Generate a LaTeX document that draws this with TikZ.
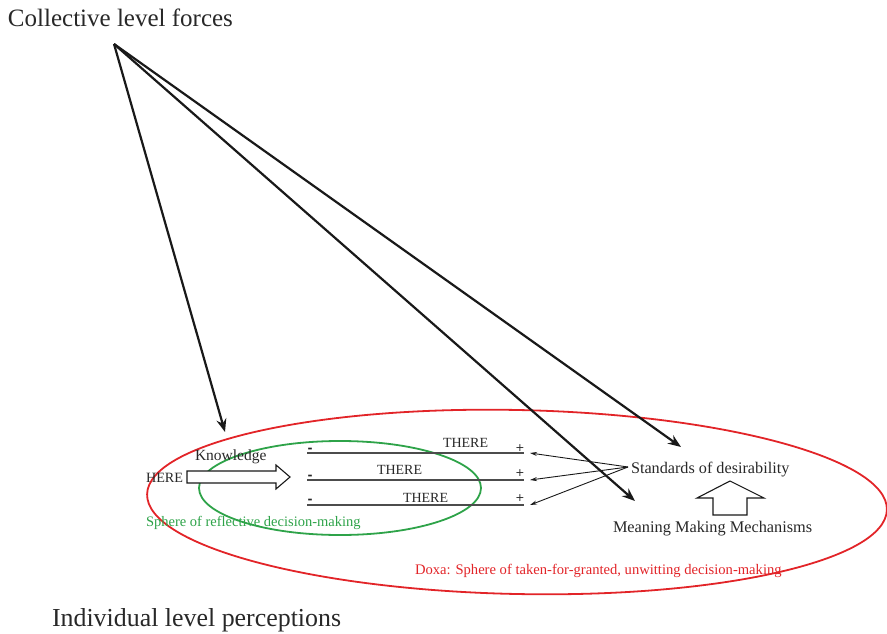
\documentclass[tikz,border=0pt]{standalone}
\usepackage{fontspec}
\setmainfont{Liberation Serif}
\newfontfamily\signfont{DejaVu Sans}
\usetikzlibrary{arrows.meta}
\definecolor{dred}{RGB}{226,36,40}
\definecolor{dgreen}{RGB}{46,163,73}
\definecolor{dline}{RGB}{40,40,40}
\tikzset{
  txt/.style={anchor=base west,inner sep=0pt,outer sep=0pt,text=dline},
  bigarrow/.style={line width=2.2pt,draw=black!90,-{Stealth[length=13pt,width=10pt]}},
  thinarrow/.style={line width=0.9pt,draw=black!90,-{Stealth[length=7pt,width=4pt]}},
  hollow/.style={draw=black!90,line width=1.1pt,fill=white,line join=miter},
  thereline/.style={draw=black!70,line width=1.5pt},
  minus/.style={anchor=base,inner sep=0pt,font=\fontsize{12}{12}\selectfont\signfont\bfseries,text=black!85},
  plus/.style={anchor=base,inner sep=0pt,font=\fontsize{11}{11}\selectfont\signfont,text=dline}
}
\begin{document}
\begin{tikzpicture}[x=1pt,y=-1pt]
\useasboundingbox (0,0) rectangle (887,634);
% ellipses
\draw[dred,line width=1.8pt,rotate around={-1.2:(517,502)}] (517,502) ellipse [x radius=370pt,y radius=92pt];
\draw[dgreen,line width=1.8pt] (340,488) ellipse [x radius=141pt,y radius=47pt];
% titles
\node[txt,font=\fontsize{25}{28}\selectfont] (coll) at (8,27) {Collective level forces};
\node[txt,font=\fontsize{25.9}{28}\selectfont] (indiv) at (52,626) {Individual level perceptions};
% left side
\node[txt,font=\fontsize{14.2}{16}\selectfont] (here) at (146,482) {HERE};
\node[txt,font=\fontsize{15.5}{17}\selectfont] (know) at (195,460) {Knowledge};
\draw[hollow] (187,471) -- (276,471) -- (276,465) -- (290,477) -- (276,489) -- (276,483) -- (187,483) -- cycle;
% there lines
\coordinate (l1a) at (307,453); \coordinate (l1b) at (524,453);
\coordinate (l2a) at (307,480); \coordinate (l2b) at (524,480);
\coordinate (l3a) at (307,505); \coordinate (l3b) at (524,505);
\draw[thereline] (l1a) -- (l1b);
\draw[thereline] (l2a) -- (l2b);
\draw[thereline] (l3a) -- (l3b);
\node[txt,font=\fontsize{14}{16}\selectfont] (t1) at (443,447) {THERE};
\node[txt,font=\fontsize{14}{16}\selectfont] (t2) at (377,474) {THERE};
\node[txt,font=\fontsize{14}{16}\selectfont] (t3) at (403,502) {THERE};
\node[minus] (m1) at (310,452) {-};
\node[minus] (m2) at (310,479) {-};
\node[minus] (m3) at (310,503) {-};
\node[plus] (p1) at (520,451) {+};
\node[plus] (p2) at (520,476.5) {+};
\node[plus] (p3) at (520,501.5) {+};
\node[txt,font=\fontsize{14.5}{16}\selectfont,text=dgreen] (green) at (146,526) {Sphere of reflective decision-making};
\node[txt,font=\fontsize{14.6}{16}\selectfont,text=dred] (doxa) at (415,574) {Doxa: Sphere of taken-for-granted, unwitting decision-making};
% right side
\node[txt,font=\fontsize{16.2}{18}\selectfont] (std) at (631,473) {Standards of desirability};
\node[txt,font=\fontsize{16.3}{18}\selectfont] (mmm) at (613,532) {Meaning Making Mechanisms};
\draw[hollow] (713,515) -- (713,498) -- (697,498) -- (730,481) -- (764,498) -- (747,498) -- (747,515) -- cycle;
\coordinate (sfrom) at (628,467);
\coordinate (e1) at (530,453);
\coordinate (e2) at (530,480);
\coordinate (e3) at (530,505);
\draw[thinarrow] (sfrom) -- (e1);
\draw[thinarrow] (sfrom) -- (e2);
\draw[thinarrow] (sfrom) -- (e3);
% collective arrows
\coordinate (src) at (114,44);
\coordinate (tk) at (225,432);
\coordinate (tm) at (635,501);
\coordinate (ts) at (681,447);
\draw[bigarrow] (src) -- (tk);
\draw[bigarrow] (src) -- (tm);
\draw[bigarrow] (src) -- (ts);
\end{tikzpicture}
\end{document}
